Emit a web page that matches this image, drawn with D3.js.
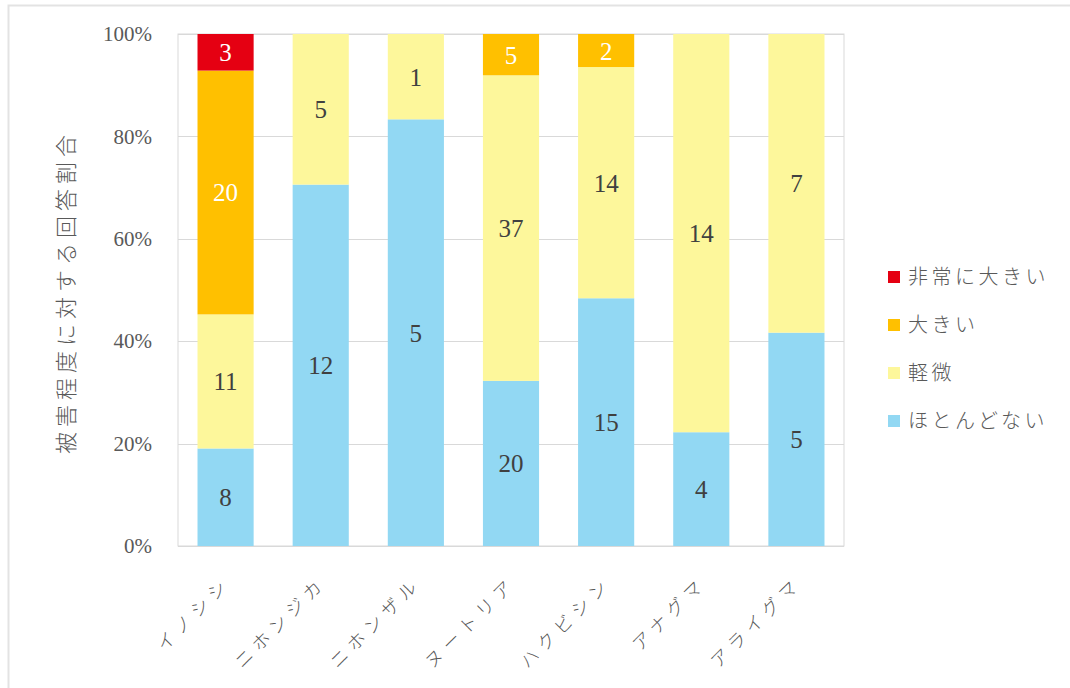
<!DOCTYPE html>
<meta charset="utf-8">
<style>
  body { margin: 0; background: #fff; }
  .num { font-family: "Liberation Serif", "DejaVu Serif", serif; }
  .jp { font-family: "Noto Sans CJK JP", sans-serif; font-weight: 300; }
</style>
<body>
<script src="https://d3js.org/d3.v7.min.js"></script>
<script>
// categories (animals) and response counts per damage level
var animals = ["イノシシ", "ニホンジカ", "ニホンザル", "ヌートリア", "ハクビシン", "アナグマ", "アライグマ"];
var levels = ["ほとんどない", "軽微", "大きい", "非常に大きい"];   // bottom -> top
var hotondoNai = [8, 12, 5, 20, 15, 4, 5];
var keibi      = [11, 5, 1, 37, 14, 14, 7];
var ookii      = [20, 0, 0, 5, 2, 0, 0];
var hijouni    = [3, 0, 0, 0, 0, 0, 0];
var yTicks = [0, 0.2, 0.4, 0.6, 0.8, 1];
var yTitle = "被害程度に対する回答割合";

var colors = {"ほとんどない": "#92d8f3", "軽微": "#fdf79b", "大きい": "#ffc000", "非常に大きい": "#e50012"};
var labelColor = {"ほとんどない": "#404040", "軽微": "#404040", "大きい": "#ffffff", "非常に大きい": "#ffffff"};

var width = 1070, height = 688;
var x0 = 178, x1 = 844, yTop = 34, yBot = 546;

// build table for the stack
var table = animals.map(function(a, i) {
  return {animal: a, "ほとんどない": hotondoNai[i], "軽微": keibi[i], "大きい": ookii[i], "非常に大きい": hijouni[i]};
});
var series = d3.stack().keys(levels).offset(d3.stackOffsetExpand)(table);

var x = d3.scaleBand().domain(animals).range([x0, x1]).paddingInner(0.41).paddingOuter(0.205);
var y = d3.scaleLinear().domain([0, 1]).range([yBot, yTop]);

var svg = d3.select("body").append("svg")
    .attr("width", width)
    .attr("height", height);

// outer frame
svg.append("rect")
    .attr("x", 8.5).attr("y", 5.5)
    .attr("width", width + 10).attr("height", height + 10)
    .attr("fill", "none").attr("stroke", "#e3e3e3").attr("stroke-width", 2);

// plot area frame + gridlines
svg.append("rect")
    .attr("x", x0).attr("y", yTop)
    .attr("width", x1 - x0).attr("height", yBot - yTop)
    .attr("fill", "none").attr("stroke", "#d9d9d9");

svg.append("g").selectAll("line")
  .data(yTicks)
  .enter().append("line")
    .attr("x1", x0).attr("x2", x1)
    .attr("y1", function(d) { return Math.round(y(d)) + 0.5; })
    .attr("y2", function(d) { return Math.round(y(d)) + 0.5; })
    .attr("stroke", "#d9d9d9");

// y axis labels
var yAxis = svg.append("g")
    .attr("transform", "translate(" + (x0 - 23) + ",0)")
    .call(d3.axisLeft(y).tickValues(yTicks).tickFormat(d3.format(".0%")).tickSize(0));
yAxis.select(".domain").remove();
yAxis.selectAll("text")
    .attr("class", "num")
    .attr("font-size", 21)
    .attr("fill", "#595959");

// bars
var layer = svg.append("g").selectAll("g")
  .data(series)
  .enter().append("g")
    .attr("fill", function(s) { return colors[s.key]; });

layer.selectAll("rect")
  .data(function(s) { return s; })
  .enter().append("rect")
    .attr("x", function(d) { return x(d.data.animal); })
    .attr("y", function(d) { return y(d[1]); })
    .attr("width", x.bandwidth())
    .attr("height", function(d) { return y(d[0]) - y(d[1]); });

// data labels
series.forEach(function(s) {
  svg.append("g").selectAll("text")
    .data(s.filter(function(d) { return d.data[s.key] > 0; }))
    .enter().append("text")
      .attr("class", "num")
      .attr("x", function(d) { return x(d.data.animal) + x.bandwidth() / 2; })
      .attr("y", function(d) { return (y(d[0]) + y(d[1])) / 2; })
      .attr("dy", "0.36em")
      .attr("text-anchor", "middle")
      .attr("font-size", 25)
      .attr("fill", labelColor[s.key])
      .text(function(d) { return d.data[s.key]; });
});

// x axis labels, rotated
svg.append("g").selectAll("text")
  .data(animals)
  .enter().append("text")
    .attr("class", "jp")
    .attr("transform", function(d) {
      return "translate(" + (x(d) + x.bandwidth() / 2 + 2) + "," + (yBot + 34) + ") rotate(-45)";
    })
    .attr("text-anchor", "end")
    .attr("dy", "0.35em")
    .attr("font-size", 18)
    .attr("letter-spacing", 6)
    .attr("fill", "#595959")
    .text(function(d) { return d; });

// y title
svg.append("text")
    .attr("class", "jp")
    .attr("transform", "translate(74," + ((yTop + yBot) / 2 + 2) + ") rotate(-90)")
    .attr("text-anchor", "middle")
    .attr("font-size", 22)
    .attr("letter-spacing", 5)
    .attr("fill", "#595959")
    .text(yTitle);

// legend, top level first
var legendItems = levels.slice().reverse();
var legend = svg.append("g").selectAll("g")
  .data(legendItems)
  .enter().append("g")
    .attr("transform", function(d, i) { return "translate(888," + (277 + i * 48) + ")"; });

legend.append("rect")
    .attr("x", 0).attr("y", -6)
    .attr("width", 12).attr("height", 12)
    .attr("fill", function(d) { return colors[d]; });

legend.append("text")
    .attr("class", "jp")
    .attr("x", 20)
    .attr("dy", "0.35em")
    .attr("font-size", 20)
    .attr("letter-spacing", 3.5)
    .attr("fill", "#595959")
    .text(function(d) { return d; });
</script>
</body>
</html>
